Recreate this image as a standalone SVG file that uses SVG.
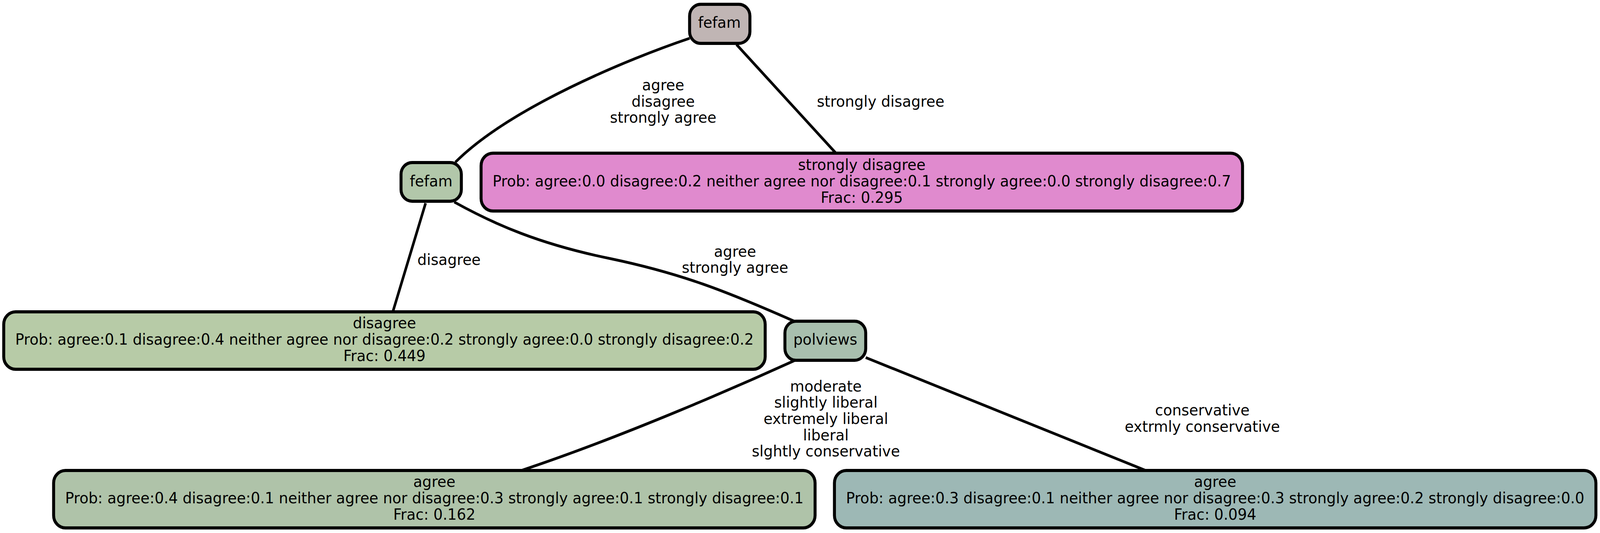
<svg xmlns="http://www.w3.org/2000/svg" width="4297" height="1364" viewBox="0 0 4297 1364" preserveAspectRatio="none">
<style>
  svg { width: 100vw; height: 100vh; }
  .node rect { stroke: #000; stroke-width: 8; }
  .edges path { fill: none; stroke: #000; stroke-width: 7; }
  text { font-family: "DejaVu Sans", "Liberation Sans", sans-serif; font-size: 39.5px; fill: #000; text-anchor: middle; }
</style>
<rect x="0" y="0" width="4297" height="1364" fill="#ffffff"/>
<g class="edges" id="connectors">
  <path d="M1852,98 C1690,150 1370,275 1223,415"/>
  <path d="M1978,114 L2245,392"/>
  <path d="M1143,520 L1055,798"/>
  <path d="M1220,517 C1330,575 1450,625 1640,662 C1830,700 1950,745 2133,822"/>
  <path d="M2133,923 C1990,985 1680,1115 1400,1204"/>
  <path d="M2325,915 L3077,1204"/>
  <g id="edge-labels">
    <text x="1781" y="231">agree</text>
    <text x="1781" y="273">disagree</text>
    <text x="1781" y="314">strongly agree</text>
    <text x="2365" y="273">strongly disagree</text>
    <text x="1206" y="678">disagree</text>
    <text x="1974" y="657">agree</text>
    <text x="1974" y="698">strongly agree</text>
    <text x="2218" y="1002">moderate</text>
    <text x="2218" y="1043">slightly liberal</text>
    <text x="2218" y="1085">extremely liberal</text>
    <text x="2218" y="1127">liberal</text>
    <text x="2218" y="1168">slghtly conservative</text>
    <text x="3229" y="1063">conservative</text>
    <text x="3229" y="1105">extrmly conservative</text>
  </g>
</g>
<g class="node" id="node-fefam-top">
  <rect x="1852" y="11" width="162" height="100" rx="30" fill="#C0B5B4"/>
  <text x="1932" y="71">fefam</text>
</g>
<g class="node" id="node-fefam-mid">
  <rect x="1077" y="416" width="162" height="99" rx="30" fill="#B2C7AA"/>
  <text x="1158" y="477">fefam</text>
</g>
<g class="node" id="node-strongly-disagree">
  <rect x="1292" y="392" width="2045" height="148" rx="32" fill="#E08ACE"/>
  <text x="2314.5" y="435">strongly disagree</text>
  <text x="2314.5" y="477">Prob: agree:0.0 disagree:0.2 neither agree nor disagree:0.1 strongly agree:0.0 strongly disagree:0.7</text>
  <text x="2314.5" y="519">Frac: 0.295</text>
</g>
<g class="node" id="node-disagree">
  <rect x="10" y="798" width="2045" height="147" rx="32" fill="#B7CBA7"/>
  <text x="1032.5" y="840">disagree</text>
  <text x="1032.5" y="882">Prob: agree:0.1 disagree:0.4 neither agree nor disagree:0.2 strongly agree:0.0 strongly disagree:0.2</text>
  <text x="1032.5" y="924">Frac: 0.449</text>
</g>
<g class="node" id="node-polviews">
  <rect x="2108" y="822" width="217" height="100" rx="30" fill="#A8BFAE"/>
  <text x="2216.5" y="882">polviews</text>
</g>
<g class="node" id="node-agree-left">
  <rect x="144" y="1204" width="2045" height="147" rx="32" fill="#AFC3A9"/>
  <text x="1166.5" y="1246">agree</text>
  <text x="1166.5" y="1288">Prob: agree:0.4 disagree:0.1 neither agree nor disagree:0.3 strongly agree:0.1 strongly disagree:0.1</text>
  <text x="1166.5" y="1330">Frac: 0.162</text>
</g>
<g class="node" id="node-agree-right">
  <rect x="2241" y="1204" width="2045" height="147" rx="32" fill="#9DB8B5"/>
  <text x="3263.5" y="1246">agree</text>
  <text x="3263.5" y="1288">Prob: agree:0.3 disagree:0.1 neither agree nor disagree:0.3 strongly agree:0.2 strongly disagree:0.0</text>
  <text x="3263.5" y="1330">Frac: 0.094</text>
</g>
</svg>
